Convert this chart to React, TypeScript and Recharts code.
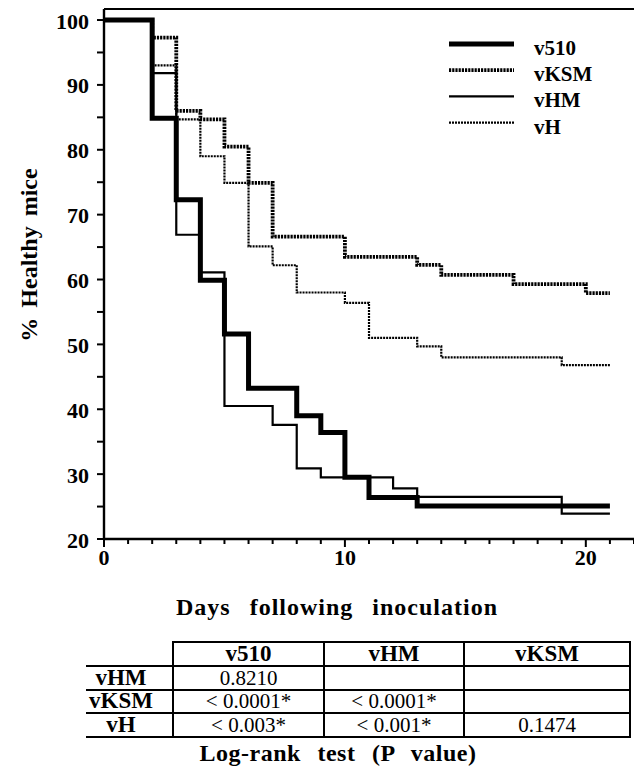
import React from 'react';
import { LineChart, Line, XAxis, YAxis, ReferenceLine } from 'recharts';

// ---- Data ----
const v510Days = [0, 2, 3, 4, 5, 6, 8, 9, 10, 11, 13, 21];
const v510Pct = [100, 84.85, 72.3, 59.9, 51.6, 43.25, 39.0, 36.4, 29.5, 26.4, 25.1, 25.1];

const vKSMDays = [0, 2, 3, 4, 5, 6, 7, 10, 13, 14, 17, 20, 21];
const vKSMPct = [100, 97.3, 86.0, 84.7, 80.5, 74.9, 66.6, 63.5, 62.25, 60.7, 59.3, 57.9, 57.9];

const vHMDays = [0, 2, 3, 4, 5, 7, 8, 9, 12, 13, 19, 21];
const vHMPct = [100, 91.8, 66.9, 61.1, 40.5, 37.6, 30.9, 29.5, 27.8, 26.5, 23.9, 23.9];

const vHDays = [0, 2, 3, 4, 5, 6, 7, 8, 10, 11, 13, 14, 19, 21];
const vHPct = [100, 93.0, 84.7, 79.0, 74.9, 65.1, 62.2, 58.0, 56.4, 51.0, 49.7, 48.0, 46.8, 46.8];

const xTicks = [0, 1, 2, 3, 4, 5, 6, 7, 8, 9, 10, 11, 12, 13, 14, 15, 16, 17, 18, 19, 20, 21, 22];
const xLabeled = [0, 10, 20];
const yTicks = [20, 25, 30, 35, 40, 45, 50, 55, 60, 65, 70, 75, 80, 85, 90, 95, 100];
const yLabeled = [20, 30, 40, 50, 60, 70, 80, 90, 100];

const tableColumns = ['v510', 'vHM', 'vKSM'];
const tableRows = ['vHM', 'vKSM', 'vH'];
const tableP = [
  ['0.8210', '', ''],
  ['< 0.0001*', '< 0.0001*', ''],
  ['< 0.003*', '< 0.001*', '0.1474'],
];

const build = (days: number[], pct: number[]) => days.map((d, i) => ({ day: d, pct: pct[i] }));

const series = [
  { name: 'v510', data: build(v510Days, v510Pct), width: 5, dash: undefined as string | undefined },
  { name: 'vKSM', data: build(vKSMDays, vKSMPct), width: 3.8, dash: '2.2 1' },
  { name: 'vHM', data: build(vHMDays, vHMPct), width: 2.2, dash: undefined as string | undefined },
  { name: 'vH', data: build(vHDays, vHPct), width: 2.2, dash: '2 1' },
];

const FONT = '"Liberation Serif", "Times New Roman", serif';
const Y_TOP = 101.7;

const XTick = (props: any) => {
  const { x, y, payload } = props;
  const major = xLabeled.includes(payload.value);
  return (
    <g>
      <line x1={x} x2={x} y1={y} y2={y + (major ? 8 : 5)} stroke="#000" strokeWidth={2} />
      {major && (
        <text x={x} y={y + 18} textAnchor="middle" dominantBaseline="central" fontFamily={FONT} fontWeight="bold" fontSize={22} fill="#000">
          {payload.value}
        </text>
      )}
    </g>
  );
};

const YTick = (props: any) => {
  const { x, y, payload } = props;
  const major = yLabeled.includes(payload.value);
  return (
    <g>
      <line x1={x - 7} x2={x} y1={y} y2={y} stroke="#000" strokeWidth={2} />
      {major && (
        <text x={x - 15} y={y + 1} textAnchor="end" dominantBaseline="central" fontFamily={FONT} fontWeight="bold" fontSize={22} fill="#000">
          {payload.value}
        </text>
      )}
    </g>
  );
};

const colEdges = [86, 172, 323, 463, 629];
const rowTop = 641;
const headerH = 24;
const rowH = 23.5;

export default function App() {
  const cellBase: React.CSSProperties = {
    position: 'absolute',
    boxSizing: 'border-box',
    display: 'flex',
    alignItems: 'center',
    justifyContent: 'center',
    fontFamily: FONT,
    fontSize: 21,
    color: '#000',
    lineHeight: '20px',
    whiteSpace: 'nowrap',
  };
  const cells: React.ReactNode[] = [];
  tableColumns.forEach((c, j) => {
    cells.push(
      <div key={'h' + j} style={{ ...cellBase, left: colEdges[j + 1], top: rowTop, width: colEdges[j + 2] - colEdges[j + 1] + 2, height: headerH + 2, border: '2px solid #000', fontWeight: 'bold', fontSize: 23 }}>
        {c}
      </div>
    );
  });
  tableRows.forEach((r, i) => {
    const top = rowTop + headerH + i * rowH;
    cells.push(
      <div key={'r' + i} style={{ ...cellBase, left: colEdges[0], top, width: colEdges[1] - colEdges[0] + 2, height: rowH + 2, borderTop: '2px solid #000', borderBottom: '2px solid #000', borderRight: '2px solid #000', fontWeight: 'bold', fontSize: 23, paddingRight: 16 }}>
        {r}
      </div>
    );
    tableP[i].forEach((v, j) => {
      cells.push(
        <div key={'c' + i + j} style={{ ...cellBase, left: colEdges[j + 1], top, width: colEdges[j + 2] - colEdges[j + 1] + 2, height: rowH + 2, border: '2px solid #000' }}>
          {v}
        </div>
      );
    });
  });

  return (
    <div style={{ position: 'absolute', left: 0, top: 0, width: 634, height: 778, overflow: 'hidden', background: '#fff' }}>
      <LineChart width={634} height={778} margin={{ top: 9, right: 0, left: 0, bottom: 209 }}>
        <XAxis
          type="number"
          dataKey="day"
          domain={[0, 22]}
          ticks={xTicks}
          interval={0}
          height={30}
          tickSize={0}
          tickMargin={0}
          tickLine={false}
          tick={<XTick />}
          axisLine={{ stroke: '#000', strokeWidth: 2.4 }}
          allowDataOverflow
        />
        <YAxis
          type="number"
          domain={[20, Y_TOP]}
          ticks={yTicks}
          interval={0}
          width={104}
          tickSize={0}
          tickMargin={0}
          tickLine={false}
          tick={<YTick />}
          axisLine={{ stroke: '#000', strokeWidth: 2.4 }}
          allowDataOverflow
        />
        <ReferenceLine y={Y_TOP} stroke="#000" strokeWidth={2.2} ifOverflow="visible" />
        {series.map((s) => (
          <Line
            key={s.name}
            data={s.data}
            dataKey="pct"
            name={s.name}
            type="stepAfter"
            stroke="#000"
            strokeWidth={s.width}
            strokeDasharray={s.dash}
            dot={false}
            activeDot={false}
            isAnimationActive={false}
          />
        ))}
      </LineChart>

      <svg width={634} height={778} style={{ position: 'absolute', left: 0, top: 0, pointerEvents: 'none' }}>
        {series.map((s, i) => {
          const ly = 44 + i * 26.2;
          return (
            <g key={s.name}>
              <line x1={449} x2={514} y1={ly} y2={ly} stroke="#000" strokeWidth={s.width} strokeDasharray={s.dash} />
              <text x={534} y={ly + 4} dominantBaseline="central" fontFamily={FONT} fontWeight="bold" fontSize={21} fill="#000">
                {s.name}
              </text>
            </g>
          );
        })}
        <text x={29} y={255} transform="rotate(-90 29 255)" textAnchor="middle" dominantBaseline="central" fontFamily={FONT} fontWeight="bold" fontSize={24} fill="#000" wordSpacing={4}>
          % Healthy mice
        </text>
        <text x={337} y={607} textAnchor="middle" dominantBaseline="central" fontFamily={FONT} fontWeight="bold" fontSize={24} fill="#000" letterSpacing={1} wordSpacing={12}>
          Days following inoculation
        </text>
        <text x={338} y={753} textAnchor="middle" dominantBaseline="central" fontFamily={FONT} fontWeight="bold" fontSize={24} fill="#000" letterSpacing={0.5} wordSpacing={10}>
          Log-rank test (P value)
        </text>
      </svg>

      {cells}
    </div>
  );
}
